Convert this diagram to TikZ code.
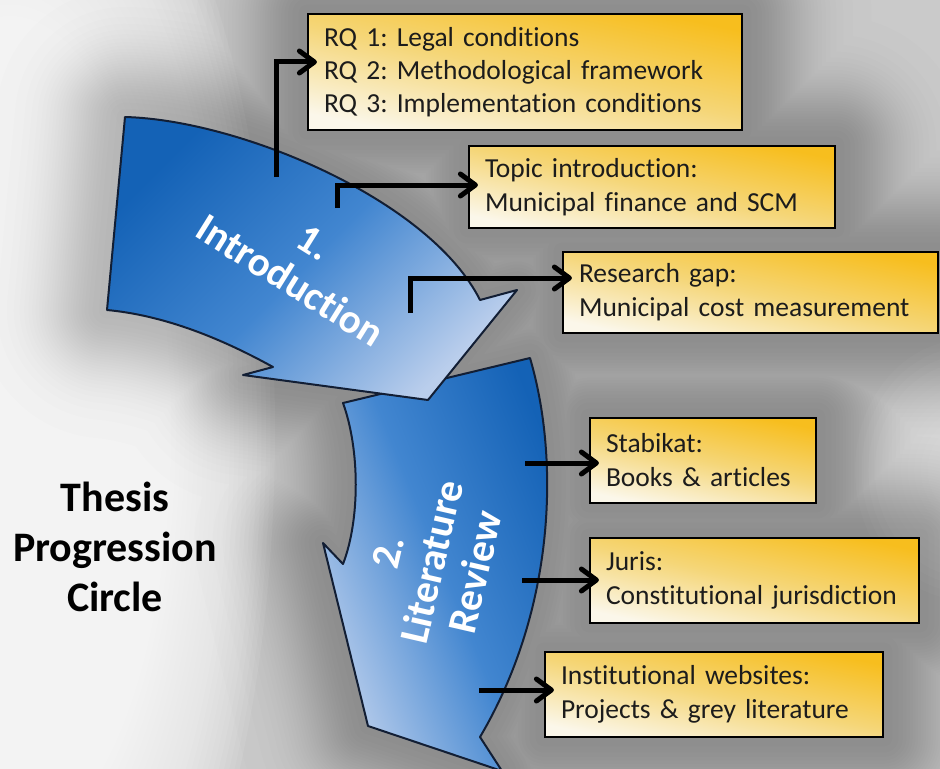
\documentclass[tikz,border=0pt]{standalone}
\usepackage{fontspec}
\setmainfont{Carlito}[Ligatures=NoCommon]
\usetikzlibrary{arrows.meta,backgrounds}
\frenchspacing

\definecolor{gold}{RGB}{247,190,30}
\definecolor{goldmid}{RGB}{245,214,120}
\definecolor{cream}{RGB}{251,247,234}
\definecolor{deepblue}{RGB}{20,98,182}
\definecolor{midblue}{RGB}{66,134,208}
\definecolor{paleblue}{RGB}{186,206,236}
\definecolor{navy}{RGB}{18,30,52}
\definecolor{ink}{RGB}{28,28,28}
\definecolor{backdrop}{RGB}{202,202,202}

\newcommand\boxfont{\fontsize{27.5bp}{34bp}\selectfont}
\newcommand\rqfont{\fontsize{27.5bp}{33bp}\selectfont}
\newcommand\stagefont{\bfseries\fontsize{41bp}{45bp}\selectfont}
\newcommand\titlefont{\bfseries\fontsize{42bp}{50bp}\selectfont}

% outlines of the two curved block arrows (pixel-like units, y downwards)
\newcommand\introPath{(125,117) .. controls (240,120) and (430,200) .. (480,300)
  -- (517,290) -- (428,400) -- (243,375) -- (273,367)
  .. controls (215,335) and (160,315) .. (107,310) -- cycle}
\newcommand\reviewPath{(343,403) -- (530,358)
  .. controls (560,460) and (555,610) .. (480,737)
  -- (502,771) -- (368,726) -- (323,543) -- (343,564)
  .. controls (360,520) and (360,450) .. (343,403) -- cycle}

\tikzset{
  infobox/.style={draw=black, line width=2.2bp, top color=gold, bottom color=cream,
    middle color=goldmid, shading angle=-12, inner xsep=16bp, inner ysep=0bp,
    align=left, font=\boxfont, text=ink},
  stagearrow/.style={draw=navy, line width=2bp, line join=round},
  stagelabel/.style={text=white, align=center, font=\stagefont},
  conn/.style={draw=black, line width=5bp,
    -{Straight Barb[length=15bp,width=22bp,round]}, shorten >=-10bp},
  halo/.style={draw=black, line join=round, draw opacity=0.0068},
}

\begin{document}
\begin{tikzpicture}[x=1bp,y=-1bp]
\useasboundingbox (0,0) rectangle (940,769);

% stage arrows
\path[stagearrow, left color=paleblue, right color=deepblue, middle color=midblue, shading angle=112] \reviewPath;
\path[stagearrow, top color=deepblue, bottom color=paleblue, middle color=midblue, shading angle=45] \introPath;

\node[stagelabel, rotate=-32] (introlabel) at (302,262) {1.\\Introduction};
\node[stagelabel, rotate=77] (reviewlabel) at (432,562) {2.\\Literature\\Review};

% title
\node[font=\titlefont, text=black, align=center] (title) at (115,547) {Thesis\\Progression\\Circle};

% information boxes
\node[infobox, font=\rqfont, minimum width=434bp, minimum height=116bp, text width=402bp] (rq) at (525,72)
  {RQ 1: Legal conditions\\RQ 2: Methodological framework\\RQ 3: Implementation conditions};
\node[infobox, minimum width=366bp, minimum height=82bp, text width=334bp] (topic) at (652,187)
  {Topic introduction:\\Municipal finance and SCM};
\node[infobox, minimum width=375bp, minimum height=81bp, text width=343bp] (gap) at (750.5,292.5)
  {Research gap:\\Municipal cost measurement};
\node[infobox, minimum width=226bp, minimum height=85bp, text width=194bp] (stab) at (703,460.5)
  {Stabikat:\\Books \& articles};
\node[infobox, minimum width=329bp, minimum height=85bp, text width=297bp] (juris) at (754.5,580.5)
  {Juris:\\Constitutional jurisdiction};
\node[infobox, minimum width=338bp, minimum height=85bp, text width=306bp] (web) at (714,694.5)
  {Institutional websites:\\Projects \& grey literature};

% connectors
\coordinate (s1) at (276,177);
\coordinate (s2) at (337,208);
\coordinate (s3) at (410,313);
\coordinate (s4) at (525,463);
\coordinate (s5) at (522,580);
\coordinate (s6) at (479,690);
\draw[conn] (s1) |- ([yshift=10bp]rq.west);
\draw[conn] (s2) |- ([yshift=2bp]topic.west);
\draw[conn] (s3) |- ([yshift=14.5bp]gap.west);
\draw[conn] (s4) -- (s4 -| stab.west);
\draw[conn] (s5) -- (s5 -| juris.west);
\draw[conn] (s6) -- (s6 -| web.west);

% backdrop: grey field, a white glow on the left, soft shadow round the group
\begin{pgfonlayer}{background}
\fill[backdrop] (0,0) rectangle (940,769);
\foreach \k in {0,...,41} {
  \pgfmathsetmacro\s{1.0-0.017*\k}
  \fill[white, opacity=0.08] (10,430) ellipse ({265*\s} and {680*\s});
}
\foreach \k in {0,...,11} {
  \pgfmathsetmacro\s{1.0-0.06*\k}
  \fill[white, opacity=0.045] (965,470) ellipse ({110*\s} and {130*\s});
}
\foreach \k in {1,...,30} {
  % Gaussian fall-off: radius where the shadow drops to the k-th level
  \pgfmathsetmacro\w{2*45*sqrt(-2*ln((\k-0.5)/30))}
  \path[halo, line width=\w bp] \introPath \reviewPath
    (rq.north west) rectangle (rq.south east)
    (topic.north west) rectangle (topic.south east)
    (gap.north west) rectangle (gap.south east)
    (stab.north west) rectangle (stab.south east)
    (juris.north west) rectangle (juris.south east)
    (web.north west) rectangle (web.south east);
}
\end{pgfonlayer}
\end{tikzpicture}
\end{document}
